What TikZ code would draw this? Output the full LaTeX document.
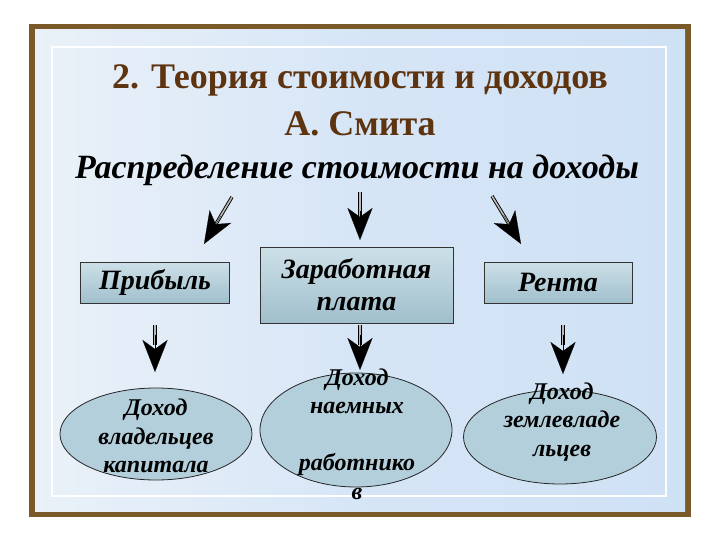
\documentclass[tikz,border=0pt]{standalone}
\usepackage{fontspec}
\setmainfont{Liberation Serif}
\usetikzlibrary{arrows.meta,shapes.geometric,calc}
\definecolor{framebrown}{HTML}{7A5A28}
\definecolor{titlebrown}{HTML}{5E3410}
\definecolor{bgblue}{HTML}{CFE1F5}
\definecolor{bgpale}{HTML}{EAF1F8}
\definecolor{boxtop}{HTML}{CDE0E8}
\definecolor{boxbot}{HTML}{A0BFCC}
\definecolor{ellfill}{HTML}{B3CFDB}
\tikzset{
  catbox/.style={draw=black!80, line width=0.9pt, top color=boxtop, bottom color=boxbot,
    font=\fontsize{28}{32}\selectfont\bfseries\itshape, align=center, inner sep=0pt},
  incell/.style={draw=black!85, line width=0.8pt, ellipse, fill=ellfill, inner sep=0pt},
  celltext/.style={font=\fontsize{24}{28.5}\selectfont\bfseries\itshape, align=center},
  shaft/.style={line width=0.9pt, draw=black, double=gray!55, double distance=1.6pt},
  head/.style={line width=0.2pt, -{Stealth[length=32pt,width=25pt,inset=9pt]}},
}
\begin{document}
\begin{tikzpicture}[x=1pt,y=-1pt]
\useasboundingbox (0,0) rectangle (720,540);
\fill[white] (0,0) rectangle (720,540);
% frame and background
\fill[framebrown] (29,24) rectangle (691,517);
\shade[left color=bgpale, right color=bgblue, middle color=bgblue!85!white] (35,30) rectangle (685,511);
\draw[white, line width=2.5pt] (52,47) rectangle (666,496);
% titles
\node[font=\fontsize{36}{40}\selectfont\bfseries, text=titlebrown] (t1) at (360,80) {2. Теория стоимости и доходов};
\node[font=\fontsize{36}{40}\selectfont\bfseries, text=titlebrown] (t2) at (360,124) {А. Смита};
\node[font=\fontsize{34}{38}\selectfont\bfseries\itshape] (t3) at (357,170) {Распределение стоимости на доходы};
% boxes
\node[catbox, minimum width=149pt, minimum height=41pt] (b1) at (155,282.5) {Прибыль};
\node[catbox, minimum width=193pt, minimum height=76pt] (b2) at (356.5,285) {Заработная\\плата};
\node[catbox, minimum width=148pt, minimum height=41pt] (b3) at (558,282.5) {Рента};
% top arrows
\coordinate (s1) at (232,197); \coordinate (e1) at (204,244);
\coordinate (s2) at (360,192); \coordinate (e2) at (360,240);
\coordinate (s3) at (492,196); \coordinate (e3) at (521,244);
\foreach \s/\e in {s1/e1,s2/e2,s3/e3}{
  \draw[shaft] (\s) -- ($(\s)!0.6!(\e)$);
  \draw[head] ($(\s)!0.4!(\e)$) -- (\e);
}
% ellipses
\node[incell, minimum width=192pt, minimum height=92pt] (c1) at (156,434) {};
\node[incell, minimum width=192pt, minimum height=114pt] (c2) at (356,430) {};
\node[incell, minimum width=193pt, minimum height=94pt] (c3) at (560,437) {};
\node[celltext] at (156,436) {Доход\\владельцев\\капитала};
\node[celltext] at (357,434) {Доход\\наемных\\\strut\\работнико\\в};
\node[celltext] at (562,422) {Доход\\землевладе\\льцев};
% lower arrows
\coordinate (d1) at (155,372); \coordinate (d2) at (360,370); \coordinate (d3) at (563,374);
\foreach \b/\x/\d in {b1/155/d1,b2/360/d2,b3/563/d3}{
  \draw[shaft] (\x,325) -- (\x,345);
  \draw[head] (\x,335) -- (\d);
}
\end{tikzpicture}
\end{document}
